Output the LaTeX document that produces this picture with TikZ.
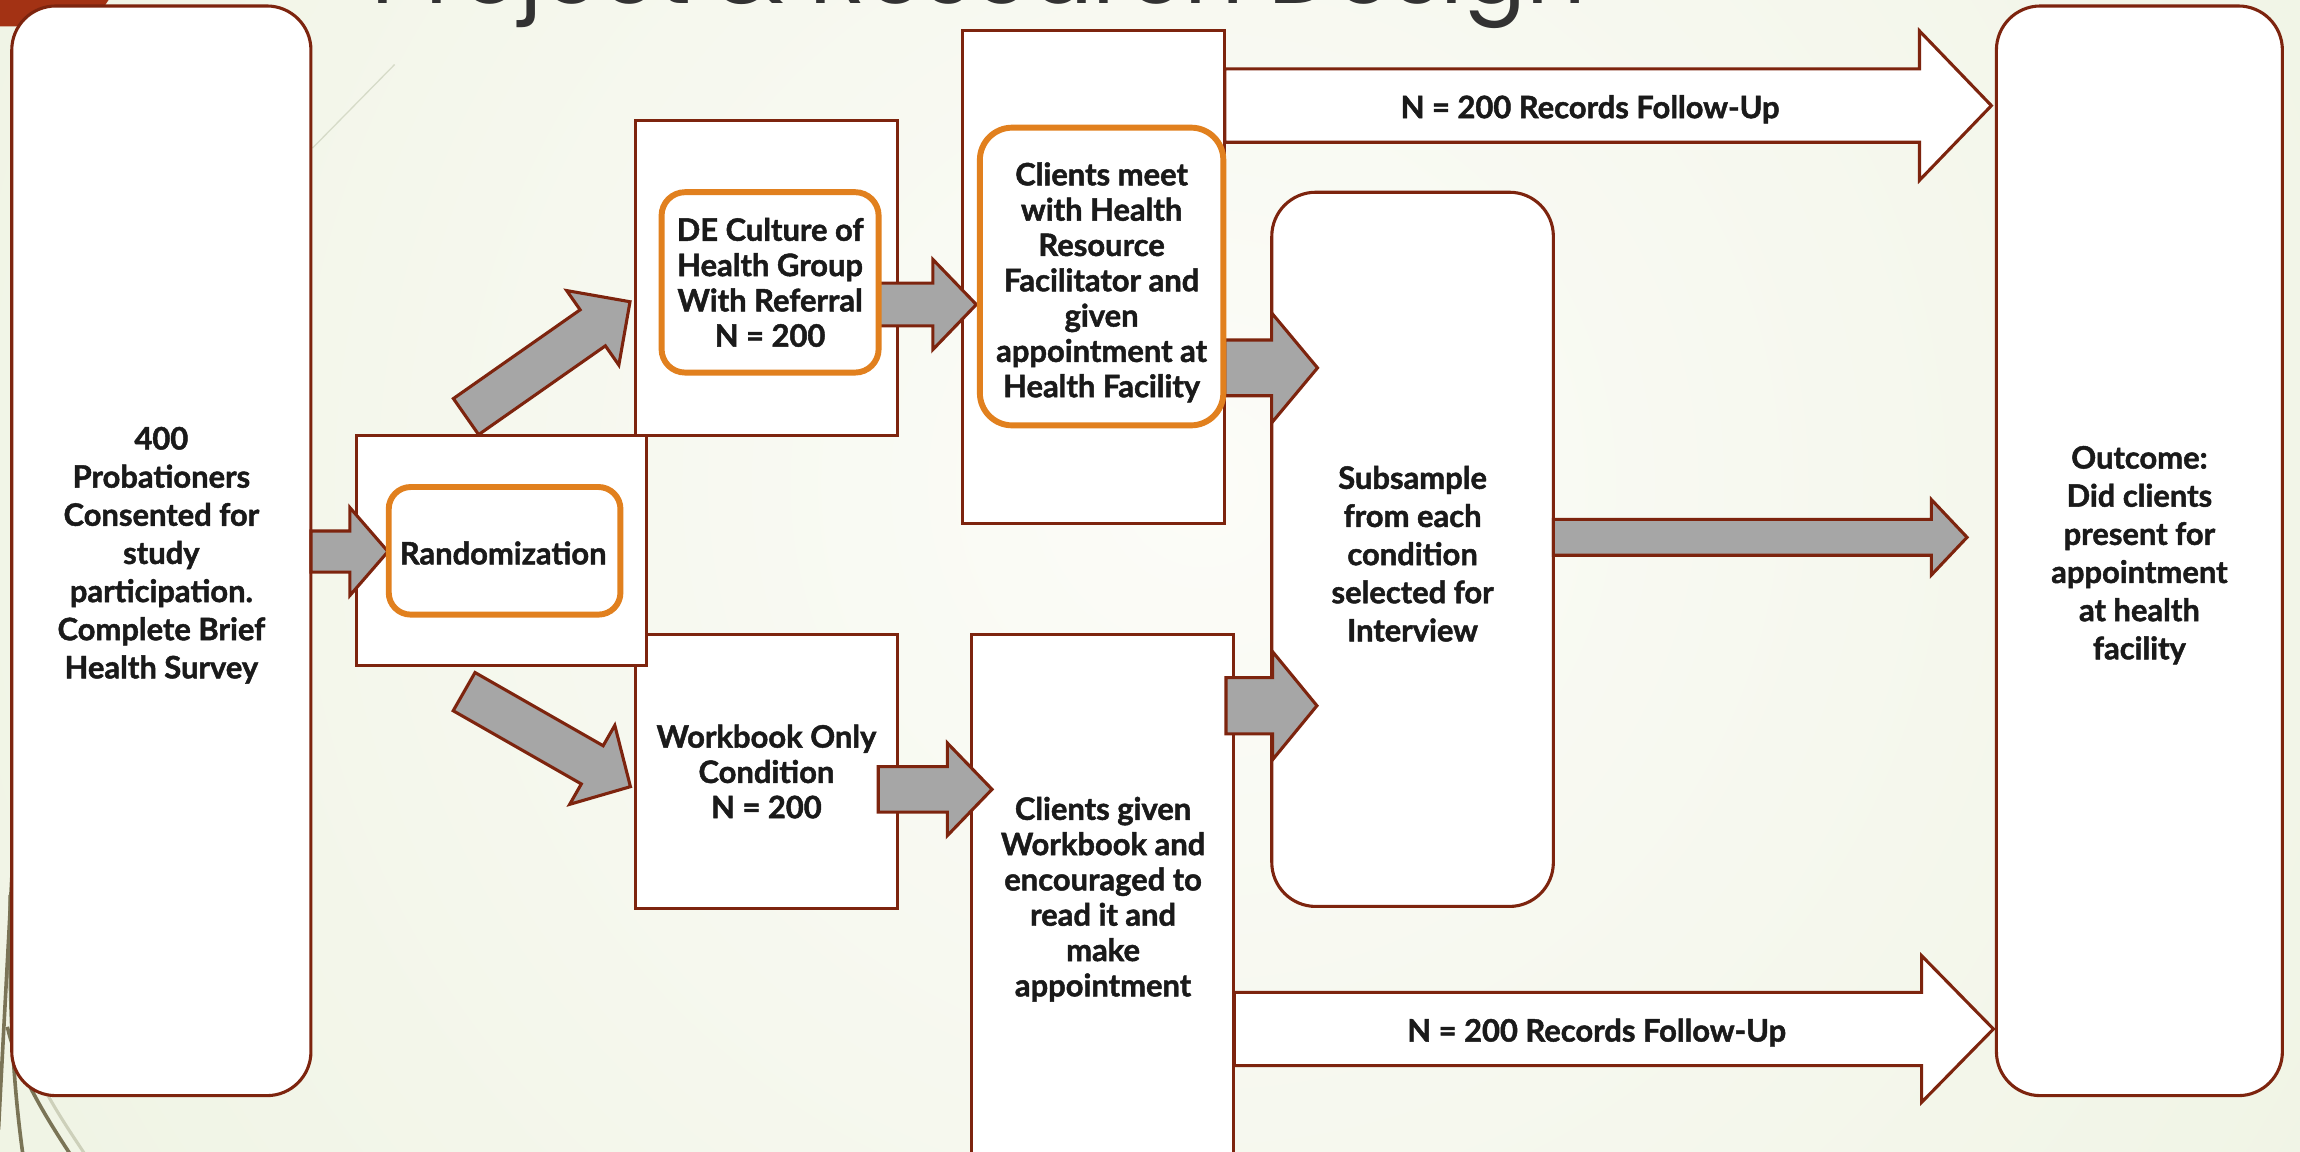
\documentclass[tikz,border=0pt]{standalone}
\usepackage{graphicx}
\usepackage{fontspec}
\setmainfont{Lato}[BoldFeatures={FakeBold=1.5}]
\newfontfamily\titlefont{Poppins}
\usetikzlibrary{calc}

\definecolor{bord}{RGB}{125,36,14}
\definecolor{orng}{RGB}{225,128,30}
\definecolor{agrey}{RGB}{166,166,166}
\definecolor{txt}{RGB}{26,26,26}
\definecolor{bgc}{RGB}{252,252,248}
\definecolor{bge}{RGB}{228,236,210}
\definecolor{topred}{RGB}{163,50,20}
\definecolor{olive}{RGB}{122,116,86}
\definecolor{olivelt}{RGB}{205,208,186}
\definecolor{faint}{RGB}{214,219,200}
\definecolor{titlec}{RGB}{50,50,50}

% block arrow: #1 style, #2 tail, #3 tip, #4 shaft half width, #5 head half width, #6 head length (px)
\newcommand\blockarrow[6]{%
  \coordinate (bah) at ($(#3)!#6*0.02cm!(#2)$);
  \draw[#1] ($(#2)!#4*0.02cm!90:(#3)$) -- ($(bah)!#4*0.02cm!90:(#3)$)
    -- ($(bah)!#5*0.02cm!90:(#3)$) -- (#3)
    -- ($(bah)!#5*0.02cm!-90:(#3)$) -- ($(bah)!#4*0.02cm!-90:(#3)$)
    -- ($(#2)!#4*0.02cm!-90:(#3)$) -- cycle;
}

\begin{document}
\begin{tikzpicture}[x=0.02cm,y=-0.02cm,
  box/.style={draw=bord,line width=1.2pt,fill=white,inner sep=0pt},
  rbox/.style={box,rounded corners=0.6cm},
  obox/.style={draw=orng,line width=2.3pt,fill=white,inner sep=0pt},
  tA/.style={text=txt,font=\bfseries\fontsize{12}{14.8}\selectfont,align=center},
  tB/.style={text=txt,font=\bfseries\fontsize{12}{13.7}\selectfont,align=center},
  garrow/.style={draw=bord,line width=1.2pt,fill=agrey,line join=miter},
  warrow/.style={draw=bord,line width=1.2pt,fill=white,line join=miter}]

\useasboundingbox (0,0) rectangle (1568,785);

% background
\fill[bge] (0,0) rectangle (1568,785);
\begin{scope}
  \clip (0,0) rectangle (1568,785);
  \shade[inner color=bgc,outer color=bge] (820,330) circle (36cm);
\end{scope}

% decorations
\fill[topred] (0,0) -- (74,0) -- (62,18) -- (0,18) -- cycle;
\draw[faint,line width=0.5pt] (213,101) -- (269,44);
\draw[olivelt,line width=1.2pt] (14,700) .. controls (21,732) and (40,760) .. (60,790);
\draw[olive,line width=1.4pt] (10,560) .. controls (6,640) and (2,710) .. (-1,770);
\draw[olive,line width=1.4pt] (7,610) .. controls (6,690) and (9,740) .. (16,790);
\draw[olive,line width=1.4pt] (5,700) .. controls (12,730) and (30,760) .. (50,790);

% title (cut off by the top edge, as in the slide)
\node[anchor=base west,inner sep=0pt,text=titlec] (title) at (253,2.5)
  {\resizebox{16.56cm}{!}{\titlefont Project \& Research Design}};

% boxes
\node[rbox,minimum width=4.08cm,minimum height=14.86cm] (left) at (110,375.5) {};
\node[tA] (lefttxt) at (110,378.5)
  {400\\Probationers\\Consented for\\study\\participation.\\Complete Brief\\Health Survey};
\node[box,tB,minimum width=3.58cm,minimum height=3.74cm] (wb) at (522.5,526)
  {Workbook Only\\Condition\\N = 200};
\node[box,minimum width=3.58cm,minimum height=4.30cm] (de) at (522.5,189.5) {};
\node[box,minimum width=3.58cm,minimum height=6.72cm] (cm) at (745.5,189) {};
\node[box,minimum width=3.58cm,minimum height=7.35cm] (cg) at (751.5,616.3) {};
\node[tB] (cgtext) at (752,613)
  {Clients given\\Workbook and\\encouraged to\\read it and\\make\\appointment};
\node[rbox,minimum width=3.84cm,minimum height=9.74cm] (ss) at (963,374.5) {};
\node[tA] (sstxt) at (963,377.5)
  {Subsample\\from each\\condition\\selected for\\Interview};
\node[rbox,minimum width=3.90cm,minimum height=14.86cm] (oc) at (1458.5,375.5) {};
\node[tA] (octxt) at (1458.5,378.5)
  {Outcome:\\Did clients\\present for\\appointment\\at health\\facility};
\node[box,minimum width=3.96cm,minimum height=3.14cm] (rnd) at (342,375.5) {};

% arrow end points
\coordinate (a1s) at (212,376);     \coordinate (a1e) at (264.5,376);
\coordinate (a2s) at (317.7,284);   \coordinate (a2e) at (429.5,205.7);
\coordinate (a3s) at (316.4,471.5); \coordinate (a3e) at (429.8,536.3);
\coordinate (a4s) at (599,207.6);   \coordinate (a4e) at (665.6,207.6);
\coordinate (a5s) at (598.7,538.1); \coordinate (a5e) at (676.3,538.1);
\coordinate (a6s) at (835,250.8);   \coordinate (a6e) at (898.2,250.8);
\coordinate (a7s) at (835.8,481.1); \coordinate (a7e) at (897.8,481.1);
\coordinate (a8s) at (1059,366.3);  \coordinate (a8e) at (1341,366.3);
\coordinate (a9s) at (835,72);      \coordinate (a9e) at (1357.6,72);
\coordinate (a10s) at (841.4,701.5); \coordinate (a10e) at (1359,701.5);

\blockarrow{garrow}{a1s}{a1e}{14}{30}{26}
\blockarrow{garrow}{a2s}{a2e}{15}{31}{31}
\blockarrow{garrow}{a3s}{a3e}{15}{31}{30}
\blockarrow{garrow}{a4s}{a4e}{14.6}{30.7}{29.6}
\blockarrow{garrow}{a5s}{a5e}{15.5}{31.6}{30.5}
\blockarrow{garrow}{a6s}{a6e}{19}{37.5}{31.3}
\blockarrow{garrow}{a7s}{a7e}{19.2}{36.9}{30.3}
\blockarrow{garrow}{a8s}{a8e}{12.2}{25.7}{24.3}
\blockarrow{warrow}{a9s}{a9e}{25}{50.9}{49}
\blockarrow{warrow}{a10s}{a10e}{25}{50}{49}

\node[tA] (rec1) at (1084,74.5) {N = 200 Records Follow-Up};
\node[tA] (rec2) at (1088.5,704) {N = 200 Records Follow-Up};

% inner orange boxes
\node[obox,rounded corners=0.3cm,minimum width=3.16cm,minimum height=1.74cm] (rndin) at (344,375.5) {};
\node[tB] (rndtxt) at (343,377) {Randomization};
\node[obox,tB,rounded corners=0.32cm,minimum width=2.96cm,minimum height=2.46cm] (dein) at (525,192.5)
  {DE Culture of\\Health Group\\With Referral\\N = 200};
\node[obox,rounded corners=0.44cm,minimum width=3.32cm,minimum height=4.06cm] (cmin) at (751,188.5) {};
\node[tB] (cmtxt) at (751,192.5)
  {Clients meet\\with Health\\Resource\\Facilitator and\\given\\appointment at\\Health Facility};

\end{tikzpicture}
\end{document}
